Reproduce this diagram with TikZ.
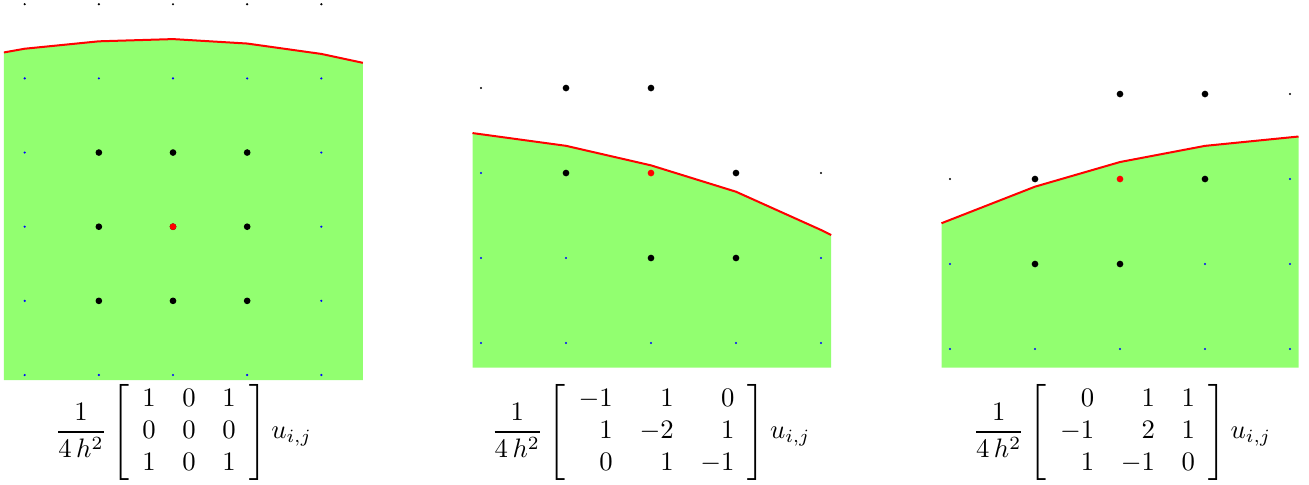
\documentclass[tikz,border=0pt]{standalone}
\usetikzlibrary{positioning}
\definecolor{DomainGreen}{HTML}{92FF70}
\definecolor{EdgeRed}{HTML}{FF0000}
\definecolor{GridBlue}{HTML}{0000FF}

\tikzset{
  regionfill/.style={fill=DomainGreen},
  boundaryline/.style={EdgeRed,line width=0.75pt},
  bigpt/.style={fill=black},
  midpt/.style={fill=EdgeRed},
  inpt/.style={fill=GridBlue},
  outpt/.style={fill=black},
  stencil/.style={inner sep=0pt,font=\normalsize}
}
\newcommand{\bigdotr}{1.25pt}
\newcommand{\smdotr}{0.45pt}

\begin{document}
\begin{tikzpicture}[x=0.3745pt,y=-0.3745pt]
  \useasboundingbox (0,0) rectangle (1309,484);

  % interior point
  \begin{scope}[shift={(24.7,375)},x=27.77pt,y=27.77pt]
    \fill[regionfill] (-0.28,-0.07) -- (-0.28,4.35) -- (0,4.40) -- (1,4.50) -- (2,4.53) -- (3,4.47) -- (4,4.33) -- (4.56,4.21) -- (4.56,-0.07) -- cycle;
    \draw[boundaryline] (-0.28,4.35) -- (0,4.40) -- (1,4.50) -- (2,4.53) -- (3,4.47) -- (4,4.33) -- (4.56,4.21);
    \foreach \i in {0,...,4} {
      \fill[outpt] (\i,5) circle[radius=\smdotr];
      \fill[inpt] (\i,4) circle[radius=\smdotr];
      \fill[inpt] (\i,0) circle[radius=\smdotr];
    }
    \foreach \j in {1,2,3} {
      \fill[inpt] (0,\j) circle[radius=\smdotr];
      \fill[inpt] (4,\j) circle[radius=\smdotr];
      \foreach \i in {1,2,3}
        \fill[bigpt] (\i,\j) circle[radius=\bigdotr];
    }
    \fill[midpt] (2,2) circle[radius=\bigdotr];
  \end{scope}

  % boundary falling to the right
  \begin{scope}[shift={(481,343)},x=31.83pt,y=31.83pt]
    \fill[regionfill] (-0.1,-0.29) -- (-0.1,2.47) -- (1,2.32) -- (2,2.09) -- (3,1.78) -- (4,1.33) -- (4.12,1.27) -- (4.12,-0.29) -- cycle;
    \draw[boundaryline] (-0.1,2.47) -- (1,2.32) -- (2,2.09) -- (3,1.78) -- (4,1.33) -- (4.12,1.27);
    \foreach \i in {0,...,4}
      \fill[inpt] (\i,0) circle[radius=\smdotr];
    \fill[outpt] (0,3) circle[radius=\smdotr];
    \fill[outpt] (4,2) circle[radius=\smdotr];
    \foreach \p in {(0,2),(0,1),(1,1),(4,1)}
      \fill[inpt] \p circle[radius=\smdotr];
    \foreach \p in {(1,3),(2,3),(1,2),(3,2),(2,1),(3,1)}
      \fill[bigpt] \p circle[radius=\bigdotr];
    \fill[midpt] (2,2) circle[radius=\bigdotr];
  \end{scope}

  % boundary rising to the right
  \begin{scope}[shift={(950,349)},x=31.83pt,y=31.83pt]
    \fill[regionfill] (-0.1,-0.22) -- (-0.1,1.48) -- (1,1.91) -- (2,2.20) -- (3,2.39) -- (4,2.49) -- (4.1,2.50) -- (4.1,-0.22) -- cycle;
    \draw[boundaryline] (-0.1,1.48) -- (1,1.91) -- (2,2.20) -- (3,2.39) -- (4,2.49) -- (4.1,2.50);
    \foreach \i in {0,...,4}
      \fill[inpt] (\i,0) circle[radius=\smdotr];
    \fill[outpt] (4,3) circle[radius=\smdotr];
    \fill[outpt] (0,2) circle[radius=\smdotr];
    \foreach \p in {(4,2),(0,1),(3,1),(4,1)}
      \fill[inpt] \p circle[radius=\smdotr];
    \foreach \p in {(2,3),(3,3),(1,2),(3,2),(1,1),(2,1)}
      \fill[bigpt] \p circle[radius=\bigdotr];
    \fill[midpt] (2,2) circle[radius=\bigdotr];
  \end{scope}

  % stencils
  \node[stencil] (inner) at (183.5,432) {$\displaystyle\frac{1}{4\,h^2}\left[\begin{array}{rrr} 1&0&1\\ 0&0&0\\ 1&0&1 \end{array}\right] u_{i,j}$};
  \node[stencil] (falling) at (651,432) {$\displaystyle\frac{1}{4\,h^2}\left[\begin{array}{rrr} -1&1&0\\ 1&-2&1\\ 0&1&-1 \end{array}\right] u_{i,j}$};
  \node[stencil] (rising) at (1122,432) {$\displaystyle\frac{1}{4\,h^2}\left[\begin{array}{rrr} 0&1&1\\ -1&2&1\\ 1&-1&0 \end{array}\right] u_{i,j}$};
\end{tikzpicture}
\end{document}
